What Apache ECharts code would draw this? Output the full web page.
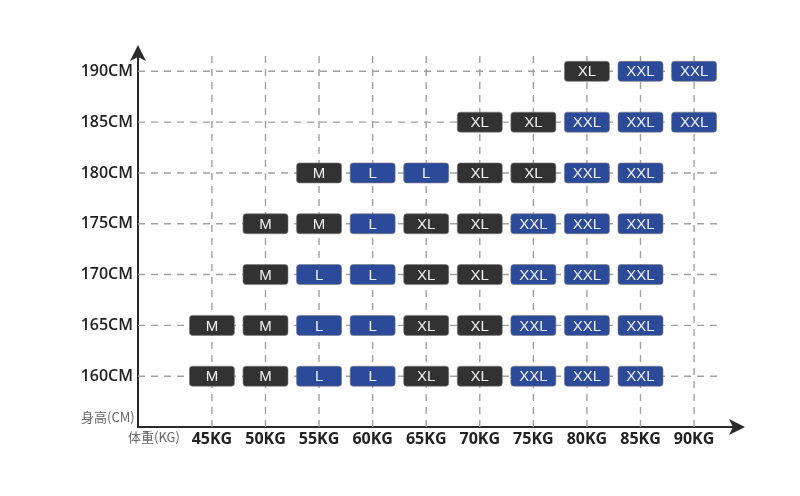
<!DOCTYPE html>
<html>
<head>
<meta charset="utf-8">
<script src="https://cdn.jsdelivr.net/npm/echarts@6/dist/echarts.min.js"></script>
<style>
html,body{margin:0;padding:0;background:#fff;}
#chart{width:800px;height:496px;}
</style>
</head>
<body>
<div id="chart"></div>
<script>
// ---- data ----
const weights = [45, 50, 55, 60, 65, 70, 75, 80, 85, 90];
const heights = [160, 165, 170, 175, 180, 185, 190];
const sizes160 = ['M', 'M', 'L', 'L', 'XL', 'XL', 'XXL', 'XXL', 'XXL', null];
const sizes165 = ['M', 'M', 'L', 'L', 'XL', 'XL', 'XXL', 'XXL', 'XXL', null];
const sizes170 = [null, 'M', 'L', 'L', 'XL', 'XL', 'XXL', 'XXL', 'XXL', null];
const sizes175 = [null, 'M', 'M', 'L', 'XL', 'XL', 'XXL', 'XXL', 'XXL', null];
const sizes180 = [null, null, 'M', 'L', 'L', 'XL', 'XL', 'XXL', 'XXL', null];
const sizes185 = [null, null, null, null, null, 'XL', 'XL', 'XXL', 'XXL', 'XXL'];
const sizes190 = [null, null, null, null, null, null, null, 'XL', 'XXL', 'XXL'];
const sizeRows = [sizes160, sizes165, sizes170, sizes175, sizes180, sizes185, sizes190];
const weightUnit = 'KG';
const heightUnit = 'CM';
const xAxisTitle = '体重(KG)';
const yAxisTitle = '身高(CM)';

// ---- styles ----
const sizeColors = { M: '#323232', XL: '#323232', L: '#2c4a9a', XXL: '#2c4a9a' };
const X_MIN = 38.1, X_MAX = 94.1, Y_MIN = 155, Y_MAX = 192;
const GRID_X_END = 92.6, GRID_Y_END = 191.9;

const cells = [];
heights.forEach((h, r) => {
  sizeRows[r].forEach((s, i) => {
    if (s) cells.push([weights[i], h, s]);
  });
});

const chart = echarts.init(document.getElementById('chart'));
const dash = { stroke: '#a0a0a0', lineWidth: 1.4, lineDash: [7, 6] };

chart.setOption({
  backgroundColor: '#ffffff',
  animation: false,
  grid: { left: 138, top: 51, width: 600, bottom: 69 },
  xAxis: {
    type: 'value', min: X_MIN, max: X_MAX,
    axisLine: { show: true, symbol: ['none', 'arrow'], symbolSize: [12, 16], symbolOffset: [0, 7],
      lineStyle: { color: '#2a2a2a', width: 2 } },
    axisTick: { show: false },
    splitLine: { show: false },
    axisLabel: { customValues: weights, formatter: v => v + weightUnit,
      color: '#222', fontSize: 16, fontWeight: 'bold', fontFamily: 'Open Sans', margin: 4 }
  },
  yAxis: {
    type: 'value', min: Y_MIN, max: Y_MAX,
    axisLine: { show: true, symbol: ['none', 'arrow'], symbolSize: [12, 16], symbolOffset: [0, 6],
      lineStyle: { color: '#2a2a2a', width: 2 } },
    axisTick: { show: false },
    splitLine: { show: false },
    axisLabel: { customValues: heights, formatter: v => v + heightUnit,
      color: '#222', fontSize: 16, fontWeight: 600, fontFamily: 'Open Sans', margin: 5 }
  },
  graphic: [
    { type: 'text', left: 81, top: 411, style: { text: yAxisTitle, fill: '#666', font: '13px "Noto Sans CJK SC"' } },
    { type: 'text', left: 128, top: 431, style: { text: xAxisTitle, fill: '#666', font: '13px "Noto Sans CJK SC"' } }
  ],
  series: [
    {
      type: 'custom', silent: true, z: 1,
      data: heights,
      renderItem: (params, api) => {
        const h = api.value(0);
        const p1 = api.coord([X_MIN, h]), p2 = api.coord([GRID_X_END, h]);
        return { type: 'line', shape: { x1: p1[0], y1: p1[1], x2: p2[0], y2: p2[1] }, style: dash };
      },
      encode: { x: -1, y: 0 }
    },
    {
      type: 'custom', silent: true, z: 1,
      data: weights,
      renderItem: (params, api) => {
        const w = api.value(0);
        const p1 = api.coord([w, Y_MIN]), p2 = api.coord([w, GRID_Y_END]);
        return { type: 'line', shape: { x1: p1[0], y1: p1[1], x2: p2[0], y2: p2[1] }, style: dash };
      },
      encode: { x: 0, y: -1 }
    },
    {
      type: 'custom', silent: true, z: 5,
      data: cells,
      encode: { x: 0, y: 1 },
      renderItem: (params, api) => {
        const c = api.coord([api.value(0), api.value(1)]);
        const s = cells[params.dataIndex][2];
        const w = 45, hh = 20;
        return {
          type: 'group',
          children: [
            { type: 'rect', shape: { x: c[0] - w / 2, y: c[1] - hh / 2, width: w, height: hh, r: 3 },
              style: { fill: sizeColors[s], stroke: '#7a7a7a', lineWidth: 0.6 } },
            { type: 'text', x: c[0], y: c[1] + 1,
              style: { text: s, fill: '#f2f2f2', font: '15px "Liberation Sans"', align: 'center', verticalAlign: 'middle' } }
          ]
        };
      }
    }
  ]
});
</script>
</body>
</html>
